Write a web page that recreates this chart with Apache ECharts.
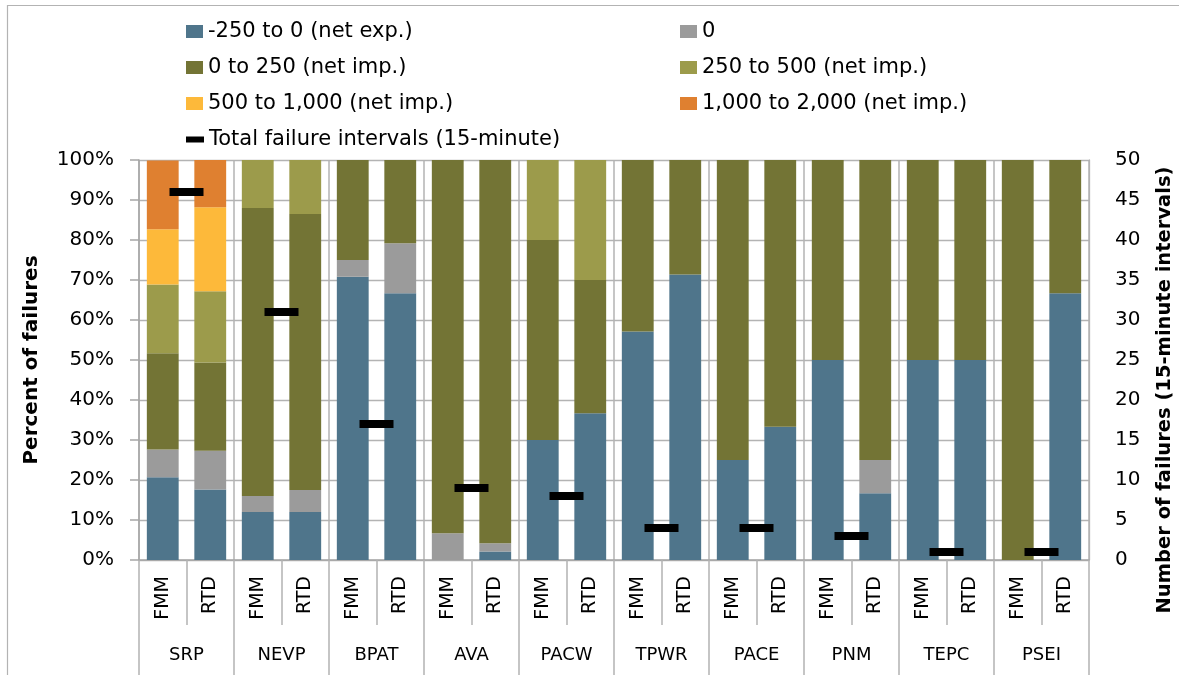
<!DOCTYPE html>
<html>
<head>
<meta charset="utf-8">
<title>Failures by net import band</title>
<script src="https://cdn.jsdelivr.net/npm/echarts@6/dist/echarts.min.js"></script>
<style>
  html, body { margin: 0; padding: 0; background: #fff; }
  #chart { width: 1200px; height: 675px; }
</style>
</head>
<body>
<div id="chart"></div>
<script>
// balancing areas, each with an FMM and an RTD bar
const groups = ['SRP', 'NEVP', 'BPAT', 'AVA', 'PACW', 'TPWR', 'PACE', 'PNM', 'TEPC', 'PSEI'];
const models = ['FMM', 'RTD'];

// percent of failures per band, order: SRP FMM, SRP RTD, NEVP FMM, ...
const netExp250 = [20.7, 17.6, 12.0, 12.0, 70.8, 66.7, 0, 2.1, 30.0, 36.7, 57.1, 71.4, 25.0, 33.3, 50.0, 16.7, 50.0, 50.0, 0, 66.7];
const zeroBand = [6.9, 9.7, 4.0, 5.5, 4.2, 12.5, 6.7, 2.1, 0, 0, 0, 0, 0, 0, 0, 8.3, 0, 0, 0, 0];
const netImp250 = [24.1, 22.1, 72.0, 69.0, 25.0, 20.8, 93.3, 95.8, 50.0, 33.3, 42.9, 28.6, 75.0, 66.7, 50.0, 75.0, 50.0, 50.0, 100, 33.3];
const netImp500 = [17.2, 17.8, 12.0, 13.5, 0, 0, 0, 0, 20.0, 30.0, 0, 0, 0, 0, 0, 0, 0, 0, 0, 0];
const netImp1000 = [13.8, 21.0, 0, 0, 0, 0, 0, 0, 0, 0, 0, 0, 0, 0, 0, 0, 0, 0, 0, 0];
const netImp2000 = [17.2, 11.8, 0, 0, 0, 0, 0, 0, 0, 0, 0, 0, 0, 0, 0, 0, 0, 0, 0, 0];

// total failure intervals per area (right axis)
const totalIntervals = [46, 31, 17, 9, 8, 4, 4, 3, 1, 1];

const bandNames = [
  '-250 to 0 (net exp.)',
  '0',
  '0 to 250 (net imp.)',
  '250 to 500 (net imp.)',
  '500 to 1,000 (net imp.)',
  '1,000 to 2,000 (net imp.)'
];
const bandColors = ['#4f758b', '#9b9b9b', '#737435', '#9c9b4b', '#fdb93a', '#df8030'];
const bandData = [netExp250, zeroBand, netImp250, netImp500, netImp1000, netImp2000];
const totalName = 'Total failure intervals (15-minute)';

const font = 'DejaVu Sans';
const gridColor = '#b3b3b3';

const categories = [];
groups.forEach(g => models.forEach(m => categories.push(g + '|' + m)));

const chart = echarts.init(document.getElementById('chart'), null, {renderer: 'canvas'});

const barSeries = bandNames.map((name, i) => ({
  name: name,
  type: 'bar',
  stack: 'share',
  barCategoryGap: '33%',
  xAxisIndex: 0,
  yAxisIndex: 0,
  data: bandData[i],
  itemStyle: {color: bandColors[i]},
  emphasis: {disabled: true}
}));

const legendText = {fontFamily: font, fontSize: 21, color: '#000'};

chart.setOption({
  animation: false,
  textStyle: {fontFamily: font},
  grid: {left: 139, right: 111, top: 160, bottom: 115, containLabel: false, outerBoundsMode: 'none'},
  graphic: [{
    type: 'polyline',
    shape: {points: [[7.5, 700], [7.5, 5.5], [1179, 5.5]]},
    style: {stroke: '#b3b3b3', lineWidth: 1.2, fill: null},
    silent: true
  }],
  legend: [
    {
      orient: 'vertical', left: 181, top: 16, itemWidth: 17, itemHeight: 13, itemGap: 15,
      icon: 'rect', textStyle: legendText, selectedMode: false,
      data: [bandNames[0], bandNames[2], bandNames[4]]
    },
    {
      orient: 'vertical', left: 675, top: 16, itemWidth: 17, itemHeight: 13, itemGap: 15,
      icon: 'rect', textStyle: legendText, selectedMode: false,
      data: [bandNames[1], bandNames[3], bandNames[5]]
    },
    {
      orient: 'vertical', left: 181, top: 124, itemWidth: 18, itemHeight: 6,
      icon: 'rect', textStyle: legendText, selectedMode: false,
      data: [totalName]
    }
  ],
  xAxis: [
    {
      type: 'category',
      position: 'bottom',
      data: categories,
      axisLine: {show: true, lineStyle: {color: '#a6a6a6', width: 1.5}},
      axisTick: {show: true, length: 65, lineStyle: {color: gridColor, width: 1.5}},
      axisLabel: {
        interval: 0, rotate: 90, margin: 16, fontSize: 19, color: '#000', fontFamily: font,
        formatter: v => v.split('|')[1]
      },
      splitLine: {show: false}
    },
    {
      type: 'category',
      position: 'bottom',
      data: groups,
      axisLine: {show: false},
      axisTick: {show: true, length: 115, lineStyle: {color: gridColor, width: 1.5}},
      axisLabel: {interval: 0, margin: 86, fontSize: 18, color: '#000', fontFamily: font},
      splitLine: {show: true, lineStyle: {color: gridColor, width: 1.5}}
    }
  ],
  yAxis: [
    {
      type: 'value',
      position: 'left',
      min: 0, max: 100, interval: 10,
      name: 'Percent of failures',
      nameLocation: 'middle',
      nameGap: 97,
      nameTextStyle: {fontWeight: 'bold', fontSize: 20, color: '#000', fontFamily: font},
      axisLine: {show: true, lineStyle: {color: '#a6a6a6', width: 1.5}},
      axisTick: {show: true, length: 9, lineStyle: {color: '#a6a6a6', width: 1.5}},
      axisLabel: {formatter: '{value}%', margin: 25, fontSize: 20, color: '#000', fontFamily: font},
      splitLine: {show: true, lineStyle: {color: gridColor, width: 1.3}}
    },
    {
      type: 'value',
      position: 'right',
      min: 0, max: 50, interval: 5,
      name: 'Number of failures (15-minute intervals)',
      nameLocation: 'middle',
      nameRotate: 90,
      nameGap: 66,
      nameTextStyle: {fontWeight: 'bold', fontSize: 19.5, color: '#000', fontFamily: font, padding: [0, 60, 0, 0]},
      axisLine: {show: true, lineStyle: {color: gridColor, width: 1.3}},
      axisTick: {show: false},
      axisLabel: {margin: 26, fontSize: 20, color: '#000', fontFamily: font},
      splitLine: {show: false}
    }
  ],
  series: barSeries.concat([{
    name: totalName,
    type: 'scatter',
    xAxisIndex: 1,
    yAxisIndex: 1,
    symbol: 'rect',
    symbolSize: [34, 8],
    data: totalIntervals,
    itemStyle: {color: '#000', opacity: 1},
    z: 5,
    emphasis: {disabled: true}
  }])
});

window.addEventListener('resize', () => chart.resize());
</script>
</body>
</html>
